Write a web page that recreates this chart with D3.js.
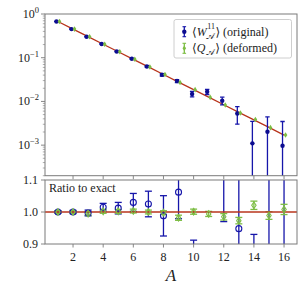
<!DOCTYPE html>
<html>
<head>
<meta charset="utf-8">
<script src="https://cdn.jsdelivr.net/npm/d3@7"></script>
<style>
  body { margin: 0; background: #fff; }
  svg text { font-family: "Liberation Serif", "DejaVu Serif", serif; fill: #222; }
</style>
</head>
<body>
<div id="chart"></div>
<script>
// subsystem size
const A = [1, 2, 3, 4, 5, 6, 7, 8, 9, 10, 11, 12, 13, 14, 15, 16];

// exact values (red line)
const exact = [0.673, 0.452, 0.303, 0.203, 0.137, 0.0917, 0.0615, 0.0413, 0.0277, 0.0186,
               0.0125, 0.0084, 0.0056, 0.00378, 0.00254, 0.0017];

// <W_A^11> (original), top panel
const origVal = [0.673, 0.452, 0.302, 0.206, 0.139, 0.0944, 0.0630, 0.0408, 0.0294, 0.0148,
                 0.0166, 0.0104, 0.00531, 0.00110, 0.00203, 0.00097];
const origErr = [0.0025, 0.0023, 0.0027, 0.0024, 0.0025, 0.0026, 0.0025, 0.0026, 0.0023, 0.0021,
                 0.0022, 0.0021, 0.0023, 0.0024, 0.0024, 0.0025];

// <Q_A> (deformed), top panel
const defVal = [0.673, 0.452, 0.302, 0.203, 0.137, 0.092, 0.0615, 0.0413, 0.0272, 0.0186,
                0.0124, 0.0083, 0.00545, 0.00386, 0.00251, 0.00171];
const defErr = [0.003, 0.002, 0.002, 0.0012, 0.0008, 0.0005, 0.0004, 0.0003, 0.0002, 0.00015,
                0.0001, 0.00008, 0.00006, 0.00005, 0.00003, 0.00003];

// ratio to exact, bottom panel
const origRatio = [1.000, 1.000, 0.997, 1.015, 1.012, 1.030, 1.025, 0.988, 1.062, 0.80,
                   1.33, 1.22, 0.948, 0.29, 0.80, 0.57];
const origRatioErr = [0.004, 0.005, 0.009, 0.012, 0.018, 0.028, 0.040, 0.063, 0.083, 0.112,
                      0.18, 0.25, 0.41, 0.64, 0.95, 1.47];
const defRatio = [1.000, 1.000, 0.995, 1.002, 1.002, 1.003, 1.000, 0.998, 0.982, 1.001,
                  0.994, 0.985, 0.973, 1.021, 0.989, 1.008];
const defRatioErr = [0.004, 0.004, 0.006, 0.006, 0.006, 0.006, 0.006, 0.006, 0.008, 0.008,
                     0.008, 0.010, 0.010, 0.013, 0.012, 0.016];

const yTopTicks = [1, 0.1, 0.01, 0.001];
const yTopExp = ["0", "\u22121", "\u22122", "\u22123"];
const yBotTicks = [1.1, 1.0, 0.9];
const xTicks = [2, 4, 6, 8, 10, 12, 14, 16];

const blue = "#1616aa", green = "#7dbd44", red = "#b8341c", spine = "#7a7a7a";

const W = 307, H = 295;
const L = 45, R = 297;
const top1 = 14, bot1 = 175.7, top2 = 180, bot2 = 244;

const svg = d3.select("#chart").append("svg")
    .attr("width", W).attr("height", H);

const x = d3.scaleLinear().domain([0.14, 16.86]).range([L, R]);
const yTop = d3.scaleLog().domain([2e-4, 1]).range([bot1, top1]);
const yBot = d3.scaleLinear().domain([0.9, 1.1]).range([bot2, top2]);

const defs = svg.append("defs");
defs.append("clipPath").attr("id", "clipTop").append("rect")
    .attr("x", L).attr("y", top1).attr("width", R - L).attr("height", bot1 - top1);
defs.append("clipPath").attr("id", "clipBot").append("rect")
    .attr("x", L).attr("y", top2).attr("width", R - L).attr("height", bot2 - top2);

// draws vertical error bars with caps
function errorBars(g, xs, lo, hi, color, cap, width) {
    xs.forEach((xv, i) => {
        g.append("line")
            .attr("x1", xv).attr("x2", xv).attr("y1", lo[i]).attr("y2", hi[i])
            .attr("stroke", color).attr("stroke-width", width);
        if (cap > 0) {
            [lo[i], hi[i]].forEach(yv => {
                g.append("line")
                    .attr("x1", xv - cap).attr("x2", xv + cap).attr("y1", yv).attr("y2", yv)
                    .attr("stroke", color).attr("stroke-width", width);
            });
        }
    });
}

function diamond(cx, cy, w, h) {
    return `M${cx},${cy - h} L${cx + w},${cy} L${cx},${cy + h} L${cx - w},${cy} Z`;
}

/** Top panel **/
const gTop = svg.append("g").attr("clip-path", "url(#clipTop)");

gTop.append("path")
    .datum(A)
    .attr("fill", "none").attr("stroke", red).attr("stroke-width", 1.3)
    .attr("d", d3.line().x(d => x(d)).y((d, i) => yTop(exact[i])));

const bx = A.map(a => x(a - 0.1));
errorBars(gTop, bx,
    origVal.map((v, i) => v - origErr[i] > 2e-4 ? yTop(v - origErr[i]) : bot1 + 5),
    origVal.map((v, i) => yTop(v + origErr[i])), blue, 2.2, 1.3);
gTop.selectAll(".bdot").data(A).enter().append("circle")
    .attr("cx", (d, i) => bx[i]).attr("cy", (d, i) => yTop(origVal[i]))
    .attr("r", 2.2).attr("fill", "#0c0c90");

const gx = A.map(a => x(a + 0.1));
errorBars(gTop, gx,
    defVal.map((v, i) => yTop(v - defErr[i])),
    defVal.map((v, i) => yTop(v + defErr[i])), green, 0, 1.2);
gTop.selectAll(".gdot").data(A).enter().append("path")
    .attr("d", (d, i) => diamond(gx[i], yTop(defVal[i]), 1.8, 2.8))
    .attr("fill", green);

// frame
svg.append("rect").attr("x", L).attr("y", top1).attr("width", R - L).attr("height", bot1 - top1)
    .attr("fill", "none").attr("stroke", spine).attr("stroke-width", 1);

// y ticks (log)
yTopTicks.forEach((t, i) => {
    svg.append("line").attr("x1", L - 4).attr("x2", L).attr("y1", yTop(t)).attr("y2", yTop(t))
        .attr("stroke", spine).attr("stroke-width", 0.9);
    const tx = svg.append("text").attr("x", L - 6).attr("y", yTop(t) + 4)
        .attr("text-anchor", "end").style("font-size", "12px");
    tx.append("tspan").text("10");
    tx.append("tspan").attr("dy", -5).style("font-size", "8.5px").text(yTopExp[i]);
});
const minor = [];
[1e-4, 1e-3, 1e-2, 1e-1].forEach(dec => {
    for (let m = 2; m <= 9; m++) minor.push(dec * m);
});
minor.filter(v => v >= 2e-4 && v <= 1).forEach(v => {
    svg.append("line").attr("x1", L - 2.2).attr("x2", L).attr("y1", yTop(v)).attr("y2", yTop(v))
        .attr("stroke", spine).attr("stroke-width", 0.6);
});
xTicks.forEach(t => {
    svg.append("line").attr("x1", x(t)).attr("x2", x(t)).attr("y1", bot1).attr("y2", bot1 + 3.5)
        .attr("stroke", spine).attr("stroke-width", 0.9);
});

/** Bottom panel **/
const gBot = svg.append("g").attr("clip-path", "url(#clipBot)");

errorBars(gBot, A.map(a => x(a)),
    origRatio.map((v, i) => yBot(v - origRatioErr[i])),
    origRatio.map((v, i) => yBot(v + origRatioErr[i])), blue, 3.5, 1.3);
errorBars(gBot, A.map(a => x(a)),
    defRatio.map((v, i) => yBot(v - defRatioErr[i])),
    defRatio.map((v, i) => yBot(v + defRatioErr[i])), green, 3.5, 1.3);

gBot.append("line").attr("x1", L).attr("x2", R).attr("y1", yBot(1)).attr("y2", yBot(1))
    .attr("stroke", red).attr("stroke-width", 1.3);

gBot.selectAll(".bcirc").data(A).enter().append("circle")
    .attr("cx", d => x(d)).attr("cy", (d, i) => yBot(origRatio[i]))
    .attr("r", 3).attr("fill", "none").attr("stroke", blue).attr("stroke-width", 1.1);
gBot.selectAll(".gdia").data(A).enter().append("path")
    .attr("d", (d, i) => diamond(x(d), yBot(defRatio[i]), 2.2, 3.3))
    .attr("fill", "none").attr("stroke", green).attr("stroke-width", 1.1);

svg.append("rect").attr("x", L).attr("y", top2).attr("width", R - L).attr("height", bot2 - top2)
    .attr("fill", "none").attr("stroke", spine).attr("stroke-width", 1);

yBotTicks.forEach(t => {
    svg.append("line").attr("x1", L - 4).attr("x2", L).attr("y1", yBot(t)).attr("y2", yBot(t))
        .attr("stroke", spine).attr("stroke-width", 0.9);
    svg.append("text").attr("x", L - 7).attr("y", yBot(t) + 4)
        .attr("text-anchor", "end").style("font-size", "12px").text(t.toFixed(1));
});
xTicks.forEach(t => {
    svg.append("line").attr("x1", x(t)).attr("x2", x(t)).attr("y1", bot2).attr("y2", bot2 + 3.5)
        .attr("stroke", spine).attr("stroke-width", 0.9);
    svg.append("text").attr("x", x(t)).attr("y", bot2 + 17)
        .attr("text-anchor", "middle").style("font-size", "12px").text(t);
});

svg.append("text").attr("x", 49).attr("y", 191.5).style("font-size", "12px").text("Ratio to exact");

svg.append("text").attr("x", (L + R) / 2).attr("y", 281).attr("text-anchor", "middle")
    .style("font-size", "17px").style("font-style", "italic").text("A");

/** Legend **/
const lg = svg.append("g");
lg.append("rect").attr("x", 174).attr("y", 19.5).attr("width", 117.5).attr("height", 38.5)
    .attr("rx", 2).attr("fill", "#fff").attr("fill-opacity", 0.85)
    .attr("stroke", "#c8c8c8").attr("stroke-width", 0.9);

function legendEntry(yc, color, isOrig) {
    const mx = 184.3;
    lg.append("line").attr("x1", mx).attr("x2", mx).attr("y1", yc - 5).attr("y2", yc + 5)
        .attr("stroke", color).attr("stroke-width", 1.3);
    [yc - 5, yc + 5].forEach(yv => lg.append("line")
        .attr("x1", mx - 1.8).attr("x2", mx + 1.8).attr("y1", yv).attr("y2", yv)
        .attr("stroke", color).attr("stroke-width", 1.1));
    if (isOrig) lg.append("circle").attr("cx", mx).attr("cy", yc).attr("r", 2.2).attr("fill", "#0c0c90");
    else lg.append("path").attr("d", diamond(mx, yc, 1.8, 2.8)).attr("fill", color);

    const base = yc + 4;
    let tx = 192;
    const t1 = lg.append("text").attr("x", tx).attr("y", base).style("font-size", "12px");
    t1.append("tspan").text("\u27E8");
    t1.append("tspan").style("font-style", "italic").text(isOrig ? "W" : "Q");
    tx += t1.node().getComputedTextLength() + 0.5;
    let w = 0;
    if (isOrig) {
        const sup = lg.append("text").attr("x", tx).attr("y", base - 6.5)
            .style("font-size", "8px").text("11");
        w = sup.node().getComputedTextLength();
    }
    const sub = lg.append("text").attr("x", tx - (isOrig ? 1.5 : 0)).attr("y", base + 3)
        .style("font-size", "8.5px").style("font-family", "'DejaVu Sans', 'Noto Sans', serif")
        .text("\uD835\uDC9C");
    w = Math.max(w, sub.node().getComputedTextLength() - (isOrig ? 1.5 : 0));
    tx += w + 0.5;
    lg.append("text").attr("x", tx).attr("y", base).style("font-size", "12px")
        .text("\u27E9 " + (isOrig ? "(original)" : "(deformed)"));
}
legendEntry(31.7, blue, true);
legendEntry(48.3, green, false);
</script>
</body>
</html>
